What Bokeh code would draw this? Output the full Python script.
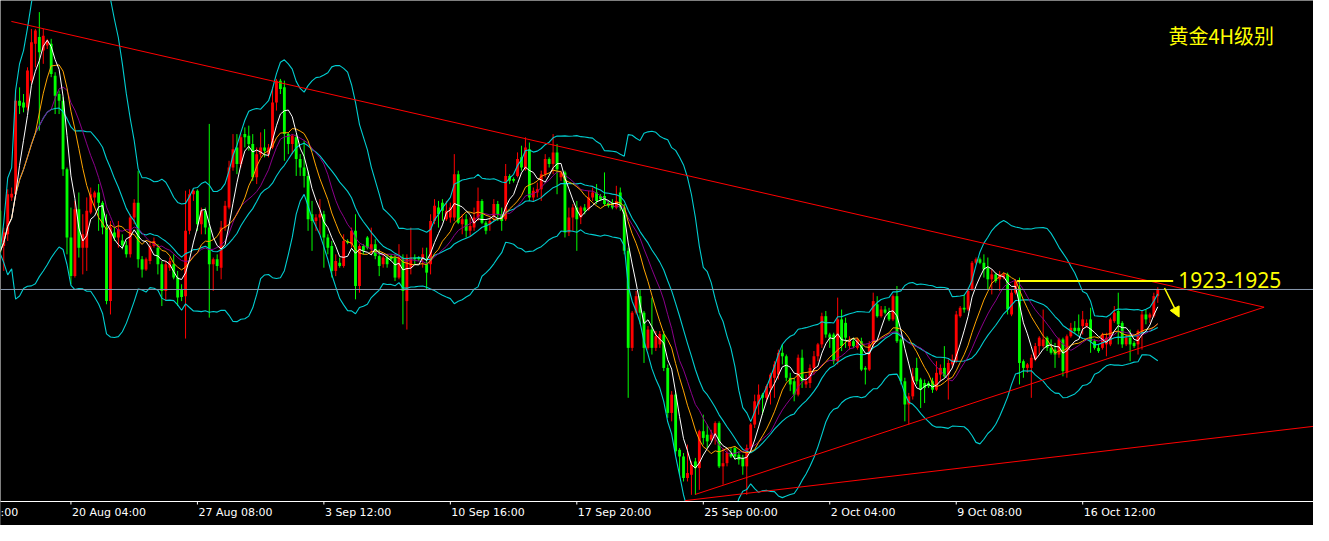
import numpy as np
import pandas as pd
from bokeh.plotting import figure
from bokeh.models import ColumnDataSource, Span, Arrow, NormalHead, Label
from bokeh.core.properties import value
from bokeh.embed import file_html
from bokeh.resources import INLINE

# ---------------- data (XAUUSD, 4H bars) ----------------
opens = [
    1946.6, 1934.5, 1938.5, 1951.2, 1952.3, 1984.5, 1983.9, 1982.2, 1991.4, 2004.1,
    2006.4, 2001.8, 2003.5, 2004.1, 1993.1, 1986.8, 1984.5, 1960.9, 1937.4, 1924.1,
    1947.1, 1933.9, 1933.9, 1946.0, 1951.2, 1952.9, 1949.4, 1940.8, 1915.5, 1939.1,
    1937.4, 1936.4, 1934.7, 1931.6, 1944.3, 1949.4, 1929.9, 1926.4, 1929.3, 1934.5,
    1933.9, 1928.2, 1919.0, 1927.0, 1928.2, 1923.6, 1919.5, 1917.2, 1939.7, 1952.3,
    1953.5, 1942.0, 1946.6, 1940.8, 1928.2, 1929.9, 1927.0, 1940.8, 1947.7, 1961.5,
    1968.4, 1962.7, 1973.0, 1972.4, 1969.6, 1958.1, 1966.1, 1968.4, 1966.1, 1968.4,
    1983.9, 1991.4, 1989.1, 1973.0, 1969.6, 1971.9, 1964.4, 1961.5, 1958.6, 1945.4,
    1943.1, 1944.3, 1945.4, 1937.4, 1934.5, 1925.9, 1928.7, 1927.6, 1936.2, 1935.1,
    1939.7, 1920.7, 1934.5, 1937.4, 1933.3, 1935.1, 1931.0, 1928.2, 1930.5, 1931.0,
    1930.5, 1923.6, 1930.5, 1915.5, 1927.0, 1930.5, 1930.5, 1929.9, 1928.2, 1928.2,
    1943.1, 1947.7, 1949.4, 1943.7, 1944.3, 1944.3, 1959.2, 1942.0, 1943.7, 1939.7,
    1940.8, 1944.3, 1950.0, 1942.5, 1942.0, 1944.8, 1948.9, 1945.4, 1943.7, 1958.6,
    1957.5, 1958.6, 1965.0, 1960.9, 1967.8, 1951.2, 1952.9, 1954.0, 1959.2, 1964.4,
    1962.7, 1966.7, 1958.1, 1959.8, 1939.1, 1944.3, 1947.7, 1944.3, 1947.7, 1947.1,
    1951.2, 1952.9, 1951.7, 1951.7, 1949.4, 1949.4, 1947.7, 1952.9, 1947.7, 1932.8,
    1899.4, 1911.5, 1917.2, 1911.5, 1899.4, 1905.7, 1899.4, 1900.6, 1904.0, 1892.5,
    1877.0, 1883.3, 1864.3, 1862.0, 1854.6, 1855.7, 1860.3, 1858.0, 1870.7, 1869.5,
    1867.8, 1869.5, 1873.5, 1858.6, 1859.7, 1863.2, 1864.9, 1862.6, 1861.5, 1858.6,
    1864.9, 1873.0, 1879.9, 1883.3, 1882.2, 1885.6, 1889.1, 1890.2, 1897.7, 1896.5,
    1889.1, 1887.9, 1883.3, 1896.0, 1886.8, 1887.3, 1892.5, 1896.5, 1900.6, 1910.3,
    1904.0, 1904.0, 1894.8, 1909.2, 1908.0, 1900.0, 1901.7, 1899.4, 1901.7, 1892.5,
    1891.9, 1900.6, 1914.4, 1910.3, 1912.6, 1911.5, 1909.2, 1917.2, 1902.3, 1887.9,
    1879.9, 1882.7, 1892.5, 1888.5, 1887.3, 1887.3, 1887.9, 1885.0, 1890.2, 1892.5,
    1890.2, 1893.7, 1894.8, 1910.3, 1913.2, 1912.6, 1919.5, 1928.7, 1929.9, 1928.7,
    1927.0, 1923.0, 1924.7, 1923.0, 1923.6, 1924.7, 1910.9, 1918.4, 1920.1, 1894.8,
    1892.5, 1892.5, 1895.4, 1900.0, 1900.0, 1902.9, 1899.4, 1898.8, 1897.1, 1902.3,
    1890.8, 1903.4, 1906.3, 1906.3, 1906.9, 1906.9, 1909.2, 1901.7, 1899.4, 1899.4,
    1900.6, 1900.6, 1908.6, 1912.1, 1908.0, 1900.6, 1902.9, 1901.1, 1900.6, 1904.6,
    1910.9, 1909.8, 1910.3, 1917.2,
]
highs = [
    1947.7, 1940.8, 1954.0, 1954.6, 1988.0, 1989.1, 1986.8, 1996.0, 2009.2, 2009.2,
    2015.0, 2009.2, 2005.8, 2005.8, 1994.3, 1988.0, 1985.7, 1961.5, 1947.7, 1950.0,
    1952.9, 1945.4, 1951.2, 1954.6, 1953.5, 1955.8, 1950.0, 1945.4, 1943.1, 1940.8,
    1943.1, 1938.5, 1936.2, 1945.4, 1950.6, 1960.4, 1931.0, 1930.5, 1936.2, 1937.4,
    1935.1, 1929.3, 1929.3, 1930.5, 1931.6, 1925.9, 1921.3, 1953.5, 1954.0, 1954.0,
    1954.0, 1947.7, 1947.7, 1976.5, 1930.5, 1931.6, 1943.1, 1950.0, 1963.8, 1973.0,
    1973.0, 1973.0, 1975.3, 1975.9, 1973.0, 1968.4, 1973.6, 1974.7, 1969.6, 1989.1,
    1992.0, 1992.0, 1991.4, 1973.6, 1973.0, 1973.0, 1966.1, 1970.7, 1960.4, 1950.0,
    1945.4, 1950.6, 1946.6, 1938.5, 1936.2, 1931.6, 1930.5, 1938.5, 1936.8, 1940.8,
    1945.4, 1935.1, 1935.1, 1937.9, 1940.8, 1936.8, 1933.3, 1931.6, 1931.6, 1931.6,
    1931.6, 1935.1, 1931.6, 1931.6, 1940.8, 1931.6, 1931.0, 1933.9, 1933.9, 1945.4,
    1950.6, 1950.0, 1950.6, 1950.0, 1949.4, 1966.1, 1960.4, 1945.4, 1945.4, 1944.3,
    1947.7, 1954.6, 1950.6, 1943.1, 1944.3, 1950.6, 1950.0, 1947.7, 1962.7, 1959.2,
    1958.1, 1966.7, 1969.0, 1971.9, 1970.1, 1954.6, 1956.3, 1960.4, 1966.1, 1965.0,
    1973.0, 1969.6, 1960.4, 1960.4, 1947.7, 1948.9, 1950.0, 1948.3, 1948.9, 1953.5,
    1954.6, 1955.8, 1952.3, 1959.8, 1950.0, 1950.6, 1955.2, 1954.6, 1948.9, 1933.9,
    1912.1, 1919.0, 1919.5, 1912.1, 1906.9, 1916.7, 1905.2, 1905.2, 1905.2, 1893.7,
    1884.5, 1884.5, 1864.9, 1863.2, 1866.1, 1860.3, 1861.5, 1871.2, 1876.4, 1873.0,
    1871.2, 1874.1, 1874.1, 1864.9, 1864.9, 1864.9, 1865.5, 1863.8, 1862.6, 1866.1,
    1873.5, 1883.3, 1886.8, 1883.9, 1886.8, 1890.8, 1894.8, 1898.8, 1900.6, 1897.1,
    1890.8, 1889.1, 1897.1, 1898.8, 1890.2, 1893.7, 1898.3, 1901.1, 1911.5, 1912.1,
    1904.6, 1904.6, 1916.7, 1912.6, 1909.8, 1903.4, 1902.9, 1902.9, 1902.9, 1893.1,
    1901.7, 1918.4, 1917.2, 1913.8, 1913.8, 1913.2, 1917.8, 1920.7, 1902.9, 1889.1,
    1883.9, 1892.5, 1896.0, 1889.1, 1888.5, 1887.9, 1889.1, 1894.8, 1893.7, 1900.0,
    1895.4, 1897.1, 1912.1, 1913.8, 1917.8, 1920.1, 1929.3, 1930.5, 1930.5, 1931.6,
    1930.5, 1926.4, 1925.3, 1925.9, 1925.3, 1925.3, 1919.5, 1923.0, 1923.6, 1895.4,
    1894.2, 1897.1, 1901.1, 1903.4, 1912.6, 1903.4, 1902.3, 1901.1, 1902.9, 1902.9,
    1904.0, 1908.0, 1908.6, 1910.9, 1912.1, 1909.2, 1913.2, 1902.3, 1900.6, 1904.6,
    1904.6, 1909.8, 1913.8, 1918.4, 1908.6, 1904.0, 1905.7, 1901.7, 1905.7, 1912.1,
    1912.6, 1911.5, 1918.4, 1920.3,
]
lows = [
    1931.0, 1925.9, 1936.2, 1950.0, 1951.2, 1979.9, 1980.5, 1981.1, 1990.3, 1996.0,
    1974.2, 1997.2, 2002.3, 1992.6, 1979.9, 1979.9, 1958.6, 1931.6, 1921.3, 1923.6,
    1930.5, 1924.7, 1925.9, 1945.4, 1947.7, 1939.7, 1938.5, 1914.4, 1910.9, 1936.2,
    1933.9, 1933.3, 1930.5, 1930.5, 1942.0, 1927.0, 1923.6, 1925.9, 1928.2, 1933.9,
    1924.7, 1913.8, 1915.5, 1925.9, 1923.0, 1913.8, 1915.5, 1902.6, 1938.5, 1950.0,
    1939.7, 1938.5, 1938.5, 1909.8, 1919.0, 1925.9, 1923.0, 1939.7, 1947.1, 1960.4,
    1959.2, 1961.5, 1968.4, 1967.3, 1956.9, 1955.8, 1965.0, 1965.0, 1965.0, 1967.8,
    1981.1, 1986.8, 1963.8, 1966.1, 1966.1, 1958.6, 1958.6, 1954.6, 1939.7, 1932.8,
    1939.7, 1938.5, 1927.0, 1931.6, 1923.6, 1924.1, 1927.0, 1927.0, 1935.1, 1933.9,
    1916.1, 1918.4, 1931.6, 1933.3, 1931.6, 1929.9, 1924.1, 1927.0, 1927.0, 1929.3,
    1922.4, 1923.0, 1907.5, 1905.7, 1924.7, 1928.2, 1929.3, 1927.0, 1919.5, 1924.7,
    1942.0, 1940.8, 1943.1, 1943.1, 1942.5, 1943.1, 1942.0, 1938.5, 1937.4, 1937.9,
    1939.7, 1943.1, 1942.0, 1938.5, 1939.7, 1943.1, 1943.1, 1939.7, 1943.1, 1955.8,
    1956.3, 1958.1, 1960.4, 1960.4, 1950.0, 1950.0, 1951.2, 1950.0, 1958.1, 1961.5,
    1959.2, 1952.3, 1956.9, 1937.4, 1937.9, 1939.7, 1932.8, 1942.0, 1945.4, 1946.6,
    1950.0, 1948.9, 1950.0, 1948.3, 1947.7, 1947.1, 1947.1, 1946.6, 1931.6, 1882.2,
    1898.3, 1910.9, 1907.5, 1894.2, 1898.8, 1897.1, 1898.3, 1899.4, 1891.4, 1875.3,
    1874.1, 1862.6, 1855.7, 1853.4, 1853.4, 1848.8, 1848.8, 1850.5, 1866.1, 1864.9,
    1867.2, 1866.1, 1858.0, 1852.3, 1858.6, 1861.5, 1860.9, 1859.2, 1855.7, 1848.8,
    1863.8, 1871.8, 1876.4, 1876.4, 1881.0, 1879.9, 1882.2, 1888.5, 1893.7, 1887.9,
    1884.5, 1881.0, 1882.7, 1885.6, 1885.6, 1885.6, 1890.2, 1894.8, 1899.4, 1902.9,
    1899.4, 1893.7, 1893.7, 1898.3, 1899.4, 1898.8, 1899.4, 1898.8, 1891.4, 1886.8,
    1891.4, 1899.4, 1909.8, 1909.8, 1910.9, 1908.6, 1908.6, 1901.1, 1886.8, 1874.1,
    1873.0, 1881.6, 1886.8, 1878.7, 1880.4, 1885.6, 1883.9, 1884.5, 1887.9, 1889.1,
    1881.6, 1892.5, 1894.2, 1909.8, 1911.5, 1912.1, 1919.0, 1928.2, 1928.2, 1923.6,
    1919.5, 1917.8, 1921.8, 1919.0, 1923.0, 1910.9, 1910.3, 1917.8, 1886.8, 1889.1,
    1890.8, 1882.2, 1894.8, 1897.1, 1899.4, 1898.3, 1897.1, 1892.5, 1896.0, 1889.6,
    1889.1, 1902.9, 1904.6, 1904.0, 1904.0, 1906.3, 1897.7, 1898.8, 1897.7, 1898.8,
    1896.5, 1900.0, 1908.0, 1900.6, 1899.4, 1900.0, 1894.8, 1899.4, 1897.1, 1898.8,
    1907.5, 1908.0, 1909.8, 1914.9,
]
closes = [
    1932.2, 1939.1, 1952.3, 1952.5, 1984.5, 1982.8, 1982.2, 1994.9, 2004.6, 2008.7,
    2001.2, 2006.9, 2005.2, 1993.7, 1986.2, 1984.5, 1960.9, 1937.4, 1924.1, 1947.1,
    1933.9, 1938.5, 1946.6, 1952.3, 1952.9, 1949.4, 1940.8, 1915.5, 1940.8, 1937.4,
    1940.2, 1934.7, 1931.6, 1944.3, 1949.4, 1929.9, 1926.4, 1929.9, 1934.5, 1936.2,
    1928.2, 1919.0, 1928.2, 1929.3, 1923.6, 1916.7, 1916.9, 1939.7, 1952.3, 1953.5,
    1942.0, 1946.6, 1940.8, 1928.2, 1929.9, 1927.6, 1940.8, 1948.3, 1961.5, 1967.8,
    1962.7, 1971.9, 1971.9, 1969.6, 1958.1, 1966.1, 1968.4, 1967.3, 1968.4, 1983.9,
    1991.4, 1988.5, 1973.0, 1969.6, 1972.4, 1964.4, 1961.5, 1958.6, 1943.7, 1943.1,
    1944.3, 1945.4, 1937.4, 1933.9, 1925.9, 1929.3, 1927.6, 1936.2, 1935.6, 1939.7,
    1920.7, 1934.5, 1932.8, 1933.9, 1935.1, 1931.0, 1927.6, 1930.5, 1928.2, 1929.9,
    1923.6, 1930.5, 1919.0, 1930.5, 1930.5, 1929.9, 1929.9, 1931.6, 1925.3, 1943.1,
    1948.3, 1945.4, 1946.6, 1946.6, 1947.7, 1959.2, 1942.5, 1943.7, 1939.7, 1941.4,
    1944.3, 1950.0, 1942.5, 1939.7, 1943.1, 1948.9, 1945.4, 1943.1, 1958.6, 1956.9,
    1956.9, 1964.4, 1961.5, 1968.4, 1951.2, 1953.5, 1954.0, 1959.2, 1964.4, 1962.7,
    1966.7, 1960.9, 1959.8, 1939.1, 1944.3, 1947.7, 1943.7, 1947.7, 1946.6, 1951.2,
    1952.9, 1950.0, 1950.6, 1948.9, 1948.3, 1947.7, 1950.0, 1947.7, 1932.8, 1899.4,
    1911.5, 1917.2, 1911.5, 1899.4, 1905.7, 1899.4, 1903.4, 1904.2, 1892.5, 1877.0,
    1883.3, 1863.8, 1862.0, 1854.6, 1856.3, 1859.2, 1858.0, 1870.7, 1868.4, 1867.2,
    1869.5, 1873.5, 1858.6, 1859.7, 1863.2, 1862.0, 1862.0, 1860.9, 1858.6, 1864.9,
    1873.0, 1881.0, 1883.3, 1882.2, 1886.2, 1890.2, 1893.7, 1897.7, 1896.5, 1889.1,
    1886.8, 1883.3, 1896.0, 1887.9, 1887.9, 1892.5, 1896.5, 1900.6, 1910.3, 1904.0,
    1902.9, 1894.8, 1909.2, 1900.0, 1902.9, 1901.7, 1900.0, 1902.3, 1891.9, 1891.9,
    1900.6, 1915.5, 1910.3, 1912.6, 1911.5, 1909.2, 1917.2, 1901.7, 1887.9, 1879.9,
    1882.7, 1889.6, 1887.9, 1885.0, 1885.6, 1886.2, 1885.0, 1890.8, 1892.5, 1889.6,
    1894.2, 1895.4, 1910.9, 1913.2, 1912.6, 1919.0, 1928.7, 1929.9, 1928.7, 1926.4,
    1923.0, 1924.7, 1922.4, 1924.7, 1924.7, 1912.6, 1918.4, 1922.4, 1894.2, 1892.5,
    1893.7, 1896.0, 1900.0, 1902.9, 1902.3, 1899.4, 1897.7, 1897.1, 1902.3, 1891.4,
    1903.4, 1906.3, 1905.2, 1905.2, 1909.2, 1908.0, 1901.7, 1899.4, 1898.3, 1904.0,
    1902.9, 1909.2, 1911.5, 1907.5, 1900.6, 1902.9, 1900.6, 1900.0, 1905.2, 1910.9,
    1909.2, 1910.9, 1917.2, 1919.5,
]

# time axis: bar number of each labelled bar and its label
tick_bars = [18, 50, 82, 114, 146, 178, 210, 242, 274]
tick_labels = ["20 Aug 04:00", "27 Aug 08:00", "3 Sep 12:00", "10 Sep 16:00",
               "17 Sep 20:00", "25 Sep 00:00", "2 Oct 04:00", "9 Oct 08:00",
               "16 Oct 12:00"]
edge_label = ":00"          # visible tail of the previous, cut-off label

# analyst drawings (bar number, price)
upper_trend_x = [2.93, 319.9]
upper_trend_y = [2011.8, 1913.4]
lower_trend_x = [175.9, 319.9]
lower_trend_y = [1848.9, 1913.4]
long_trend_x = [173.4, 340.0]
long_trend_y = [1846.8, 1873.6]
resistance_x = [257.4, 296.9]
resistance_y = [1922.4, 1922.4]
bid_price = 1919.5
arrow_from = (294.7, 1920.0)
arrow_to = (298.4, 1910.0)
title_text = "黄金4H级别"
zone_text = "1923-1925"

# indicator settings
MA_FAST, MA_MID, MA_SLOW = 5, 10, 14
BB_PERIOD, BB_DEV = 20, 2

# ---------------- derived ----------------
n = len(closes)
idx = np.arange(n)
o = np.array(opens); h = np.array(highs); l = np.array(lows); c = np.array(closes)
up = c >= o
colors = np.where(up, "#ff0000", "#00ff00")
body_bot = np.minimum(o, c)
body_top = np.maximum(np.maximum(o, c), body_bot + 0.3)

cs = pd.Series(c)
ma_fast = cs.rolling(MA_FAST, min_periods=1).mean()
ma_mid = cs.rolling(MA_MID, min_periods=1).mean()
ma_slow = cs.rolling(MA_SLOW, min_periods=1).mean()
bb_mid = cs.rolling(BB_PERIOD, min_periods=1).mean()
bb_sd = cs.rolling(BB_PERIOD, min_periods=1).std(ddof=0)
bb_up = bb_mid + BB_DEV * bb_sd
bb_lo = bb_mid - BB_DEV * bb_sd

src = ColumnDataSource(dict(x=idx, high=h, low=l, top=body_top, bottom=body_bot,
                            color=colors, maf=ma_fast, mam=ma_mid, mas=ma_slow,
                            bbm=bb_mid, bbu=bb_up, bbl=bb_lo))

# layout: price area 501 px tall, time-label strip 24 px below it
W, H, STRIP = 1313, 525, 24
Y0, Y1 = 1846.5, 2019.0
ppx = (Y1 - Y0) / (H - STRIP)          # price per pixel
YB = Y0 - STRIP * ppx                  # bottom of the canvas in price units
X0, X1 = 0.175, 332.4

p = figure(width=W, height=H, x_range=(X0, X1), y_range=(YB, Y1),
           output_backend="svg", toolbar_location=None,
           x_axis_location=None, y_axis_location=None,
           background_fill_color="black", border_fill_color="black",
           outline_line_color=None, min_border=0)
p.grid.visible = False

# candles
p.segment(x0="x", y0="low", x1="x", y1="high", color="color", line_width=1, source=src)
p.vbar(x="x", width=0.72, top="top", bottom="bottom", fill_color="color",
       line_color=None, source=src)

# Bollinger bands and moving averages
bb_col = "#00ced1"
for col in ("bbu", "bbm", "bbl"):
    p.line("x", col, source=src, line_color=bb_col, line_width=1.1)
p.line("x", "mas", source=src, line_color="#8b008b", line_width=1)
p.line("x", "mam", source=src, line_color="#ffa500", line_width=1)
p.line("x", "maf", source=src, line_color="#ffffff", line_width=1)

# drawings
p.add_layout(Span(location=bid_price, dimension="width", line_color="#8a9bb0", line_width=1))
p.line(upper_trend_x, upper_trend_y, line_color="#ff0000", line_width=1)
p.line(lower_trend_x, lower_trend_y, line_color="#ff0000", line_width=1)
p.line(long_trend_x, long_trend_y, line_color="#ff0000", line_width=1)
p.line(resistance_x, resistance_y, line_color="#ffff00", line_width=2)
p.add_layout(Arrow(end=NormalHead(size=10, fill_color="#ffff00", line_color="#ffff00"),
                   x_start=arrow_from[0], y_start=arrow_from[1],
                   x_end=arrow_to[0], y_end=arrow_to[1],
                   line_color="#ffff00", line_width=1.5))
p.add_layout(Label(x=298.2, y=1922.8, text=zone_text, text_color="#ffff00",
                   text_font="Noto Sans", text_font_size="21px",
                   text_align="left", text_baseline="middle"))
p.add_layout(Label(x=295.7, y=2007.0, text=title_text, text_color="#ffff00",
                   text_font="Noto Sans CJK SC", text_font_size="20px",
                   text_align="left", text_baseline="middle"))

# time strip: mask, axis line, tick marks and left-aligned labels
p.quad(left=X0 - 50, right=X1 + 50, bottom=YB - 5, top=Y0, fill_color="black",
       line_color=None)
p.segment(x0=[X0 - 50], y0=[Y0], x1=[X1 + 50], y1=[Y0], line_color="white", line_width=1)
tick_src = ColumnDataSource(dict(x=tick_bars, y0=[Y0] * len(tick_bars),
                                 y1=[Y0 - 3 * ppx] * len(tick_bars),
                                 ty=[Y0 - 11 * ppx] * len(tick_bars),
                                 text=tick_labels))
p.segment(x0="x", y0="y0", x1="x", y1="y1", line_color="white", line_width=1, source=tick_src)
p.text(x="x", y="ty", text="text", source=tick_src, x_offset=1,
       text_color="white", text_font=value("DejaVu Sans"), text_font_size="11px",
       text_align="left", text_baseline="middle")
p.text(x=[X0], y=[Y0 - 11 * ppx], text=[edge_label], x_offset=0,
       text_color="white", text_font=value("DejaVu Sans"), text_font_size="11px",
       text_align="left", text_baseline="middle")

open("out.html", "w").write(file_html(p, INLINE))
